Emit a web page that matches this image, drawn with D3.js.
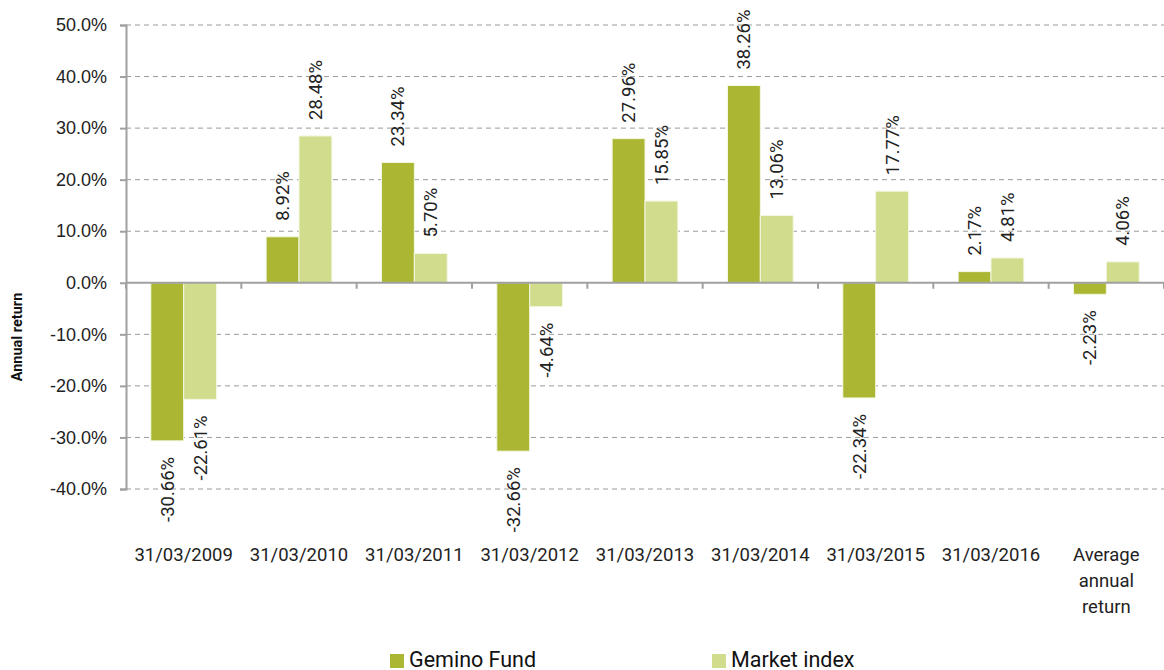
<!DOCTYPE html>
<html>
<head>
<meta charset="utf-8">
<script src="https://cdn.jsdelivr.net/npm/d3@7"></script>
<style>
  body { margin: 0; background: #fff; }
  svg { font-family: Roboto, "Noto Sans", sans-serif; }
</style>
</head>
<body>
<svg id="chart" width="1164" height="670"></svg>
<script>
const categories = ["31/03/2009", "31/03/2010", "31/03/2011", "31/03/2012", "31/03/2013",
  "31/03/2014", "31/03/2015", "31/03/2016", "Average annual return"];
const seriesNames = ["Gemino Fund", "Market index"];
const geminoFund = [-30.66, 8.92, 23.34, -32.66, 27.96, 38.26, -22.34, 2.17, -2.23];
const marketIndex = [-22.61, 28.48, 5.70, -4.64, 15.85, 13.06, 17.77, 4.81, 4.06];
const yTicks = [-40, -30, -20, -10, 0, 10, 20, 30, 40, 50];
const colors = ["#abb733", "#d1dd8d"];

const svg = d3.select("#chart");
const plotLeft = 126, plotRight = 1164, plotTop = 25, plotBottom = 489;

const x = d3.scaleBand().domain(categories).range([plotLeft, plotRight]).paddingInner(0.43).paddingOuter(0.215);
const band = d3.scaleBand().domain(["0", "1"]).range([0, x.bandwidth()]);
const y = d3.scaleLinear().domain([-40, 50]).range([plotBottom, plotTop]);

// grid
svg.append("g").selectAll("line").data(yTicks.filter(d => d !== 0)).join("line")
  .attr("x1", plotLeft).attr("x2", plotRight)
  .attr("y1", d => y(d)).attr("y2", d => y(d))
  .attr("stroke", "#9a9a9a").attr("stroke-width", 1).attr("stroke-dasharray", "5,4");

// y axis
const yAxis = svg.append("g").attr("transform", `translate(${plotLeft},0)`)
  .call(d3.axisLeft(y).tickValues(yTicks).tickSize(6).tickPadding(13).tickFormat(d => d.toFixed(1) + "%"));
yAxis.select(".domain").attr("stroke", "#a0a0a0").attr("stroke-width", 2);
yAxis.selectAll(".tick line").attr("stroke", "#a0a0a0").attr("stroke-width", 2);
yAxis.selectAll("text").attr("font-size", 18).attr("fill", "#222");

const series = [geminoFund, marketIndex];
const rows = [];
categories.forEach((c, i) => series.forEach((s, k) => rows.push({ c, k, v: s[i] })));

// bars
svg.append("g").selectAll("rect").data(rows).join("rect")
  .attr("x", d => x(d.c) + band(String(d.k)))
  .attr("width", band.bandwidth())
  .attr("y", d => y(Math.max(0, d.v)))
  .attr("height", d => Math.abs(y(d.v) - y(0)))
  .attr("fill", d => colors[d.k])
  .attr("stroke", "#f4f7e4").attr("stroke-width", 1);

// x axis (zero line)
const step = x.step();
const tickXs = d3.range(categories.length + 1).map(i => plotLeft + i * step);
svg.append("line").attr("x1", plotLeft).attr("x2", plotRight).attr("y1", y(0)).attr("y2", y(0))
  .attr("stroke", "#a0a0a0").attr("stroke-width", 2);
svg.append("g").selectAll("line").data(tickXs).join("line")
  .attr("x1", d => d).attr("x2", d => d).attr("y1", y(0)).attr("y2", y(0) + 6)
  .attr("stroke", "#a0a0a0").attr("stroke-width", 2);

// value labels
svg.append("g").selectAll("text").data(rows).join("text")
  .attr("transform", d => {
    const cx = x(d.c) + band(String(d.k)) + band.bandwidth() / 2;
    const yy = d.v >= 0 ? y(d.v) - 16 : y(d.v) + 16;
    return `translate(${cx},${yy}) rotate(-90)`;
  })
  .attr("text-anchor", d => d.v >= 0 ? "start" : "end")
  .attr("dy", "0.35em")
  .attr("font-size", 18.5).attr("fill", "#222")
  .text(d => d.v.toFixed(2) + "%");

// category labels
const catG = svg.append("g");
categories.forEach(c => {
  const lines = c === "Average annual return" ? ["Average", "annual", "return"] : [c];
  const t = catG.append("text").attr("x", x(c) + x.bandwidth() / 2).attr("y", 561)
    .attr("text-anchor", "middle").attr("font-size", 18.5).attr("fill", "#222");
  lines.forEach((l, i) => t.append("tspan").attr("x", x(c) + x.bandwidth() / 2).attr("dy", i ? 26 : 0).text(l));
});

// y title
svg.append("text").attr("transform", `translate(22,337) rotate(-90)`)
  .attr("text-anchor", "middle").attr("font-size", 14.5).attr("font-weight", "bold").attr("fill", "#111")
  .text("Annual return");

// legend
const legendX = [390, 712];
const lg = svg.append("g").selectAll("g").data(seriesNames).join("g")
  .attr("transform", (d, i) => `translate(${legendX[i]},0)`);
lg.append("rect").attr("x", 0).attr("y", 654).attr("width", 14).attr("height", 14).attr("fill", (d, i) => colors[i]);
lg.append("text").attr("x", 19).attr("y", 667).attr("font-size", 21.5).attr("fill", "#111").text(d => d);
</script>
</body>
</html>
